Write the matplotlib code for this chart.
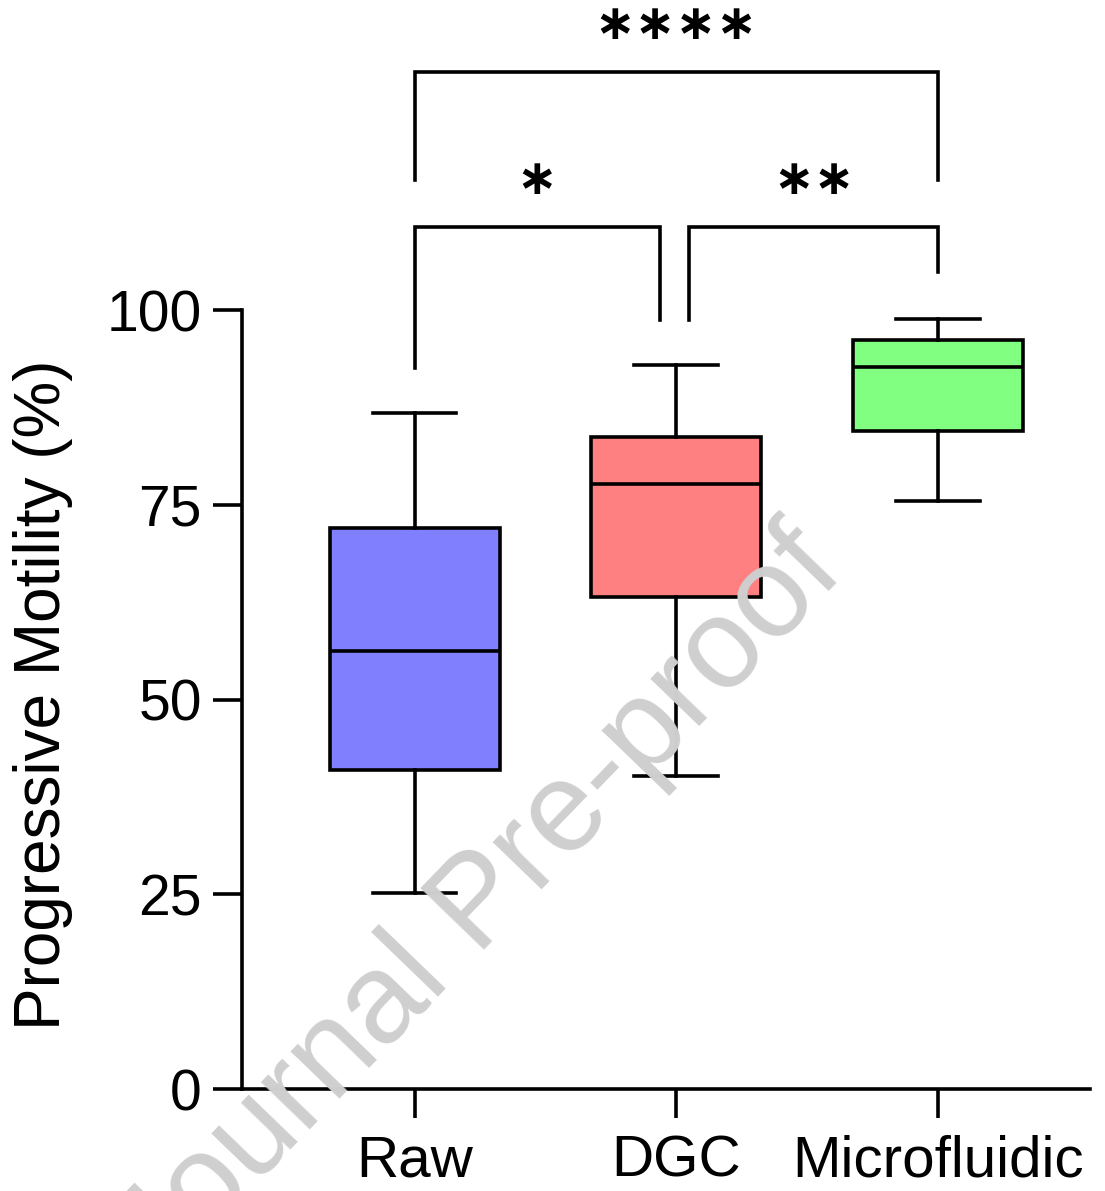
import matplotlib
matplotlib.use("Agg")
import matplotlib.pyplot as plt

plt.rcParams['font.family'] = ['Liberation Sans', 'DejaVu Sans']

# ---- data ----
groups = ["Raw", "DGC", "Microfluidic"]
whisker_low = [25.2, 40.2, 75.5]
q1 = [41.0, 63.2, 84.5]
median = [56.2, 77.7, 92.7]
q3 = [72.0, 83.7, 96.1]
whisker_high = [86.8, 92.9, 98.8]
colors = ["#8080ff", "#ff8080", "#80ff80"]

# significance annotations: (x_left, x_right, bar_y, left_leg_bottom, right_leg_bottom, label, label_x, label_y)
sig_brackets = [
    (1.0, 1.937, 110.6, 92.5, 98.7, "\u2217", 1.467, 116.7),
    (2.05, 3.0, 110.6, 98.7, 104.9, "\u2217\u2217", 2.526, 116.7),
    (1.0, 3.0, 130.5, 116.7, 116.7, "\u2217\u2217\u2217\u2217", 2.0, 136.6),
]

yticks = [0, 25, 50, 75, 100]
ylabel = "Progressive Motility (%)"

# ---- figure ----
fig = plt.figure(figsize=(11.05, 11.91), dpi=100)
ax = fig.add_axes([0.219, 0.0856, 0.767, 0.6541])

lw = 2.6
stats = []
for i, g in enumerate(groups):
    stats.append(dict(label=g, whislo=whisker_low[i], q1=q1[i], med=median[i],
                      q3=q3[i], whishi=whisker_high[i], fliers=[]))
positions = [1, 2, 3]
bp = ax.bxp(stats, positions=positions, widths=0.65, capwidths=0.32,
            patch_artist=True, showfliers=False,
            boxprops=dict(linewidth=lw, edgecolor="black"),
            medianprops=dict(color="black", linewidth=lw),
            whiskerprops=dict(color="black", linewidth=lw),
            capprops=dict(color="black", linewidth=lw))
for patch, c in zip(bp["boxes"], colors):
    patch.set_facecolor(c)

ax.set_xlim(0.34, 3.58)
ax.set_ylim(0, 100)
ax.set_yticks(yticks)
ax.set_xticks(positions)
ax.set_xticklabels(groups)

for s in ["top", "right"]:
    ax.spines[s].set_visible(False)
for s in ["left", "bottom"]:
    ax.spines[s].set_linewidth(lw)
ax.tick_params(axis="both", which="major", length=21, width=lw,
               direction="out")
ax.tick_params(axis="y", pad=8, labelsize=41)
ax.tick_params(axis="x", pad=12, labelsize=42)

fig.text(43 / 1105, 1 - 695 / 1191, ylabel, rotation=90, ha="center",
         va="center", fontsize=46)

for (xl, xr, by, lb, rb, lab, lx, ly) in sig_brackets:
    ax.plot([xl, xl, xr, xr], [lb, by, by, rb], color="black", lw=lw,
            clip_on=False, solid_joinstyle="miter")
    ax.text(lx, ly, lab, ha="center", va="center", fontsize=35,
            fontweight="bold", family=["DejaVu Sans"], clip_on=False)

# watermark
fig.text(0.435, 0.240, "Journal Pre-proof", rotation=46, ha="center",
         va="center", fontsize=92, color="#cfcfcf", zorder=0)

fig.savefig("out.png", dpi=100)
